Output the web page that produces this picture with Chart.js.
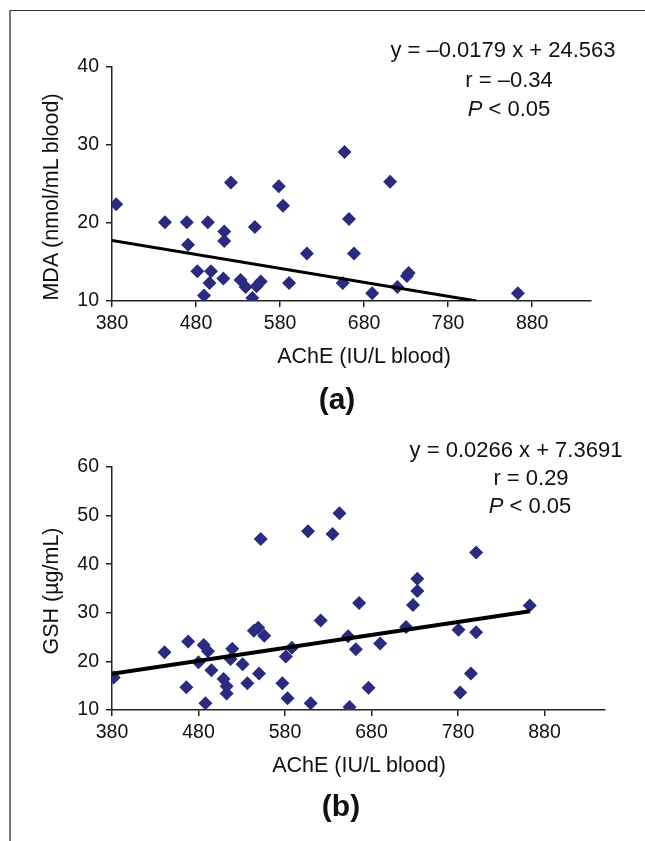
<!DOCTYPE html>
<html>
<head>
<meta charset="utf-8">
<script src="https://cdn.jsdelivr.net/npm/chart.js@4.4.0/dist/chart.umd.min.js"></script>
<style>
  html, body { margin: 0; padding: 0; background: #fff; }
  body { width: 645px; height: 841px; position: relative; overflow: hidden;
         font-family: "Liberation Sans", Arial, sans-serif; color: #111; }
  .frame { position: absolute; left: 9px; top: 10px; right: -2px; bottom: -2px;
           border-left: 2px solid #777; border-top: 1px solid #333; }
  canvas { position: absolute; left: 0; }
  .txt { position: absolute; white-space: nowrap; transform: translate(-50%, -50%); }
  .eq { font-size: 22px; }
  .title { font-size: 21.5px; }
  .ytitle { transform: translate(-50%, -50%) rotate(-90deg); }
  .panel { font-size: 30px; font-weight: bold; }
</style>
</head>
<body>
<div class="frame"></div>
<canvas id="chartA" width="645" height="420" style="top:0"></canvas>
<canvas id="chartB" width="645" height="421" style="top:420px"></canvas>

<div class="txt eq" style="left:503px; top:50px">y = –0.0179 x + 24.563</div>
<div class="txt eq" style="left:509px; top:80px">r = –0.34</div>
<div class="txt eq" style="left:509px; top:109px"><i>P</i> &lt; 0.05</div>
<div class="txt title ytitle" style="left:51px; top:197px">MDA (nmol/mL blood)</div>
<div class="txt title" style="left:364px; top:356px">AChE (IU/L blood)</div>
<div class="txt panel" style="left:337px; top:399px">(a)</div>

<div class="txt eq" style="left:516px; top:450px">y = 0.0266 x + 7.3691</div>
<div class="txt eq" style="left:531px; top:478px">r = 0.29</div>
<div class="txt eq" style="left:530px; top:506px"><i>P</i> &lt; 0.05</div>
<div class="txt title ytitle" style="left:51px; top:591px">GSH (µg/mL)</div>
<div class="txt title" style="left:359px; top:765px">AChE (IU/L blood)</div>
<div class="txt panel" style="left:341px; top:806px">(b)</div>

<script>
// panel (a): AChE vs MDA
const aAche = [385, 443, 469, 470.5, 494, 521.5, 513.6, 513.6, 550, 481.6, 497.8, 496, 512.5, 489.5,
  533, 539, 552, 557, 547, 578.5, 583.5, 590.7, 612, 656.7, 662, 668, 654.5, 689.6, 711, 719.6,
  731, 733, 863];
const aMda = [22.4, 20.1, 20.1, 17.2, 20.1, 25.2, 18.9, 17.7, 19.5, 13.8, 13.8, 12.3, 12.9, 10.7,
  12.7, 11.8, 11.9, 12.5, 10.4, 24.7, 22.2, 12.3, 16.1, 29.1, 20.5, 16.1, 12.3, 11.0, 25.3, 11.8,
  13.2, 13.6, 11.0];

// panel (b): AChE vs GSH
const bAche = [382, 440.7, 468, 466, 486, 491, 480, 495, 488, 509, 512.5, 512.5, 519, 517, 531,
  536.5, 544, 549, 556, 550, 552, 577, 581, 588, 583, 606.6, 621.3, 609.7, 635, 643, 653, 654.6,
  662, 665.7, 676.6, 690, 720, 728, 733, 733, 780.6, 782.6, 795, 801, 801, 863];
const bGsh = [16.7, 21.9, 24.1, 14.7, 23.4, 22.1, 19.8, 18.2, 11.4, 16.4, 14.9, 13.4, 22.6, 20.5, 19.4,
  15.5, 26.3, 26.9, 25.3, 17.5, 45.2, 15.5, 21, 22.8, 12.4, 46.8, 28.4, 11.4, 46.2, 50.5, 25.2, 10.6,
  22.5, 32, 14.6, 23.7, 27.1, 31.6, 34.5, 37, 26.5, 13.6, 17.5, 26, 42.4, 31.5];

const xTicks = [380, 480, 580, 680, 780, 880];
const aYTicks = [10, 20, 30, 40];
const bYTicks = [10, 20, 30, 40, 50, 60];

// trend lines from the printed equations
const aFit = { slope: -0.0179, intercept: 24.563, x0: 380, x1: 813.6 };
const bFit = { slope: 0.0266, intercept: 7.3691, x0: 380, x1: 863 };

const axisColor = '#222';
const markColor = '#2a2a80';
const font = "'Liberation Sans', Arial, sans-serif";

function fitPoints(f) {
  return [f.x0, f.x1].map(x => ({ x: x, y: f.slope * x + f.intercept }));
}

function makeChart(id, xs, ys, yTicks, fit, lay) {
  new Chart(document.getElementById(id), {
    type: 'scatter',
    data: {
      datasets: [
        {
          type: 'line',
          data: fitPoints(fit),
          borderColor: '#000',
          borderWidth: lay.lineW,
          pointRadius: 0,
          fill: false
        },
        {
          data: xs.map((x, i) => ({ x: x, y: ys[i] })),
          pointStyle: 'rectRot',
          pointRadius: 7,
          backgroundColor: markColor,
          borderWidth: 0
        }
      ]
    },
    options: {
      responsive: false,
      animation: false,
      layout: { padding: { top: lay.top, right: lay.right, left: 0, bottom: 0 } },
      plugins: { legend: { display: false }, tooltip: { enabled: false } },
      scales: {
        x: {
          type: 'linear',
          min: 380,
          max: 950,
          afterBuildTicks: s => { s.ticks = xTicks.map(v => ({ value: v })); },
          afterFit: s => { s.height = lay.xH; },
          grid: { drawOnChartArea: false, tickLength: 6, color: axisColor, lineWidth: 1.5 },
          border: { color: axisColor, width: 1.5 },
          ticks: { color: '#111', font: { family: font, size: 19.5 }, padding: 5, maxRotation: 0, autoSkip: false }
        },
        y: {
          type: 'linear',
          min: yTicks[0],
          max: yTicks[yTicks.length - 1],
          afterBuildTicks: s => { s.ticks = yTicks.map(v => ({ value: v })); },
          afterFit: s => { s.width = 112; },
          grid: { drawOnChartArea: false, tickLength: 6, color: axisColor, lineWidth: 1.5 },
          border: { color: axisColor, width: 1.5 },
          ticks: { color: '#111', font: { family: font, size: 19.5 }, padding: 7 }
        }
      }
    }
  });
}

makeChart('chartA', aAche, aMda, aYTicks, aFit, { top: 67, right: 54, xH: 119, lineW: 3 });
makeChart('chartB', bAche, bGsh, bYTicks, bFit, { top: 47, right: 40, xH: 131, lineW: 4 });
</script>
</body>
</html>
